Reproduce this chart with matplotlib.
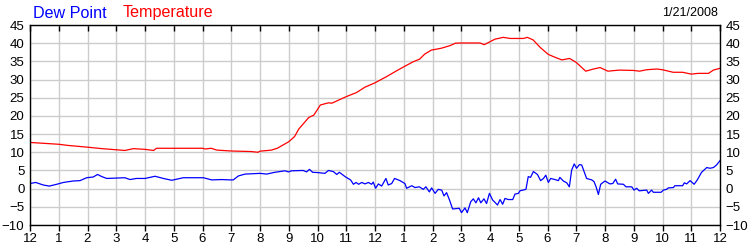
import matplotlib
matplotlib.use('Agg')
import matplotlib.pyplot as plt
import matplotlib.lines as mlines

# hours since midnight, readings in deg F
temp_hours = [0, 1.0, 1.3, 2.0, 2.5, 3.3, 3.6, 4.0, 4.3, 4.4, 5.0, 6.0, 6.1, 6.3, 6.5,
              7.0, 7.7, 7.93, 8.0, 8.4, 8.6, 9.0, 9.2, 9.35, 9.7, 9.87, 10.1, 10.38,
              10.5, 10.75, 11.0, 11.35, 11.65, 12.0, 12.4, 12.75, 13.0, 13.33, 13.55,
              13.73, 13.96, 14.3, 14.6, 14.8, 15.0, 15.65, 15.8, 16.0, 16.17, 16.46,
              16.7, 17.16, 17.3, 17.5, 17.75, 18.03, 18.3, 18.5, 18.77, 19.0, 19.33,
              19.6, 19.83, 20.1, 20.5, 21.0, 21.2, 21.45, 21.8, 22.0, 22.37, 22.7,
              23.0, 23.25, 23.6, 23.77, 24.0]
temp_vals = [12.7, 12.2, 11.9, 11.4, 11.0, 10.5, 11.0, 10.8, 10.5, 11.1, 11.1, 11.1, 10.9,
             11.1, 10.6, 10.35, 10.2, 10.0, 10.3, 10.6, 11.1, 12.9, 14.3, 16.4, 19.6,
             20.2, 23.0, 23.6, 23.5, 24.4, 25.3, 26.4, 27.9, 29.1, 30.8, 32.4, 33.5,
             34.9, 35.6, 37.0, 38.1, 38.6, 39.3, 40.0, 40.05, 40.05, 39.6, 40.4, 41.1,
             41.6, 41.3, 41.3, 41.6, 40.9, 38.8, 36.9, 36.0, 35.4, 35.8, 34.7, 32.3,
             32.9, 33.3, 32.3, 32.6, 32.5, 32.3, 32.7, 32.9, 32.7, 32.0, 32.0, 31.5,
             31.7, 31.7, 32.6, 33.1]

dew_hours = [0, 0.2, 0.46, 0.67, 0.93, 1.16, 1.5, 1.74, 1.97, 2.2, 2.35, 2.5, 2.67, 3.3,
             3.48, 3.7, 4.0, 4.35, 4.64, 4.93, 5.33, 6.03, 6.32, 6.67, 6.96, 7.07, 7.25,
             7.48, 8.0, 8.23, 8.52, 8.87, 8.99, 9.1, 9.5, 9.62, 9.72, 9.83, 10.03, 10.26,
             10.38, 10.55, 10.67, 10.76, 10.96, 11.15, 11.25, 11.34, 11.43, 11.54, 11.65,
             11.77, 11.88, 11.94, 12.02, 12.12, 12.23, 12.38, 12.46, 12.58, 12.68, 12.87,
             13.04, 13.1, 13.28, 13.39, 13.54, 13.68, 13.77, 13.89, 13.97, 14.09, 14.2,
             14.32, 14.4, 14.49, 14.59, 14.7, 14.93, 15.01, 15.13, 15.21, 15.33, 15.42,
             15.51, 15.6, 15.68, 15.79, 15.88, 15.98, 16.09, 16.26, 16.35, 16.44, 16.52,
             16.64, 16.79, 16.87, 16.99, 17.04, 17.25, 17.33, 17.41, 17.51, 17.65, 17.76,
             17.86, 17.94, 18.03, 18.11, 18.26, 18.38, 18.43, 18.55, 18.67, 18.76, 18.84,
             18.93, 19.01, 19.11, 19.19, 19.36, 19.54, 19.62, 19.69, 19.77, 19.85, 20.0,
             20.17, 20.27, 20.37, 20.44, 20.64, 20.73, 20.93, 21.01, 21.1, 21.19, 21.45,
             21.51, 21.62, 21.68, 21.95, 22.03, 22.14, 22.2, 22.38, 22.43, 22.7, 22.76,
             22.84, 22.96, 23.1, 23.21, 23.36, 23.54, 23.65, 23.77, 23.88, 24.0]
dew_vals = [1.4, 1.7, 1.0, 0.7, 1.2, 1.7, 2.1, 2.2, 3.0, 3.2, 3.9, 3.3, 2.8, 3.0, 2.5, 2.8,
            2.8, 3.4, 2.8, 2.3, 3.0, 3.0, 2.4, 2.5, 2.4, 2.4, 3.5, 4.0, 4.2, 4.0, 4.5,
            4.9, 4.6, 4.9, 5.0, 4.6, 5.3, 4.5, 4.4, 4.2, 5.0, 4.7, 3.9, 4.5, 3.3, 2.4,
            1.2, 1.7, 1.2, 1.7, 1.3, 1.7, 1.2, 1.8, 0.1, 1.3, 0.7, 2.8, 1.0, 1.4, 2.8,
            2.2, 1.4, 0.1, 0.8, 0.3, 0.5, -0.2, 0.5, -0.9, 0.2, -1.3, -0.2, -0.4, -2.0,
            -1.1, -3.1, -5.6, -5.4, -6.6, -5.3, -6.6, -3.6, -2.8, -3.9, -2.5, -3.9, -2.8,
            -4.1, -1.3, -3.1, -4.5, -3.0, -4.3, -2.7, -3.0, -3.0, -1.5, -1.3, -0.6, -0.2,
            3.3, 3.1, 4.7, 3.9, 2.2, 2.8, 3.7, 1.7, 2.8, 2.5, 2.2, 3.1, 2.1, 1.6, 0.5,
            5.1, 6.8, 5.6, 6.6, 6.5, 2.8, 2.4, 1.9, 0.5, -1.6, 1.2, 2.1, 1.3, 1.4, 2.6,
            1.3, 1.2, 0.5, 0.5, -0.4, 0.1, -0.6, -0.4, -1.3, -0.4, -1.0, -1.0, -0.4, -0.2,
            0.2, 0.3, 0.8, 0.8, 1.6, 1.3, 2.2, 1.2, 2.4, 4.5, 5.8, 5.6, 5.8, 6.5, 7.7]

hour_labels = ['12'] + [str(h) for h in range(1, 12)] + ['12'] + [str(h) for h in range(1, 12)] + ['12']
y_ticks = list(range(-10, 50, 5))
date_label = '1/21/2008'

plt.rcParams['font.family'] = ['Liberation Sans', 'DejaVu Sans']

fig = plt.figure(figsize=(7.5, 2.5), dpi=100)
ax = fig.add_axes([0.04, 0.1, 0.92, 0.8])

ax.plot(temp_hours, temp_vals, color='#ff0000', linewidth=0.9)
ax.plot(dew_hours, dew_vals, color='#0000ff', linewidth=0.9)

ax.set_xlim(0, 24)
ax.set_ylim(-10, 45)
ax.set_xticks(range(25))
ax.set_xticklabels(hour_labels)
ax.set_yticks(y_ticks)
ax.grid(True, color='#cccccc', linewidth=1)
ax.set_axisbelow(True)

ax.tick_params(axis='x', direction='out', length=4, width=1, labelsize=9.5, pad=2,
               top=True, color='black')
ax.tick_params(axis='y', length=0, labelsize=9.5, pad=4, right=True, labelright=True)

# top ticks point down into the plot, bottom ticks point down out of it
for t in ax.xaxis.get_major_ticks():
    t.tick2line.set_marker(mlines.TICKDOWN)
    t.tick2line.set_zorder(5)

for s in ax.spines.values():
    s.set_linewidth(1)

fig.text(0.044, 0.948, 'Dew Point', color='#0000ff', fontsize=11.6, va='center')
fig.text(0.164, 0.948, 'Temperature', color='#ff0000', fontsize=11.6, va='center')
fig.text(0.957, 0.948, date_label, color='black', fontsize=9, ha='right', va='center')

fig.savefig('out.png', dpi=100)
